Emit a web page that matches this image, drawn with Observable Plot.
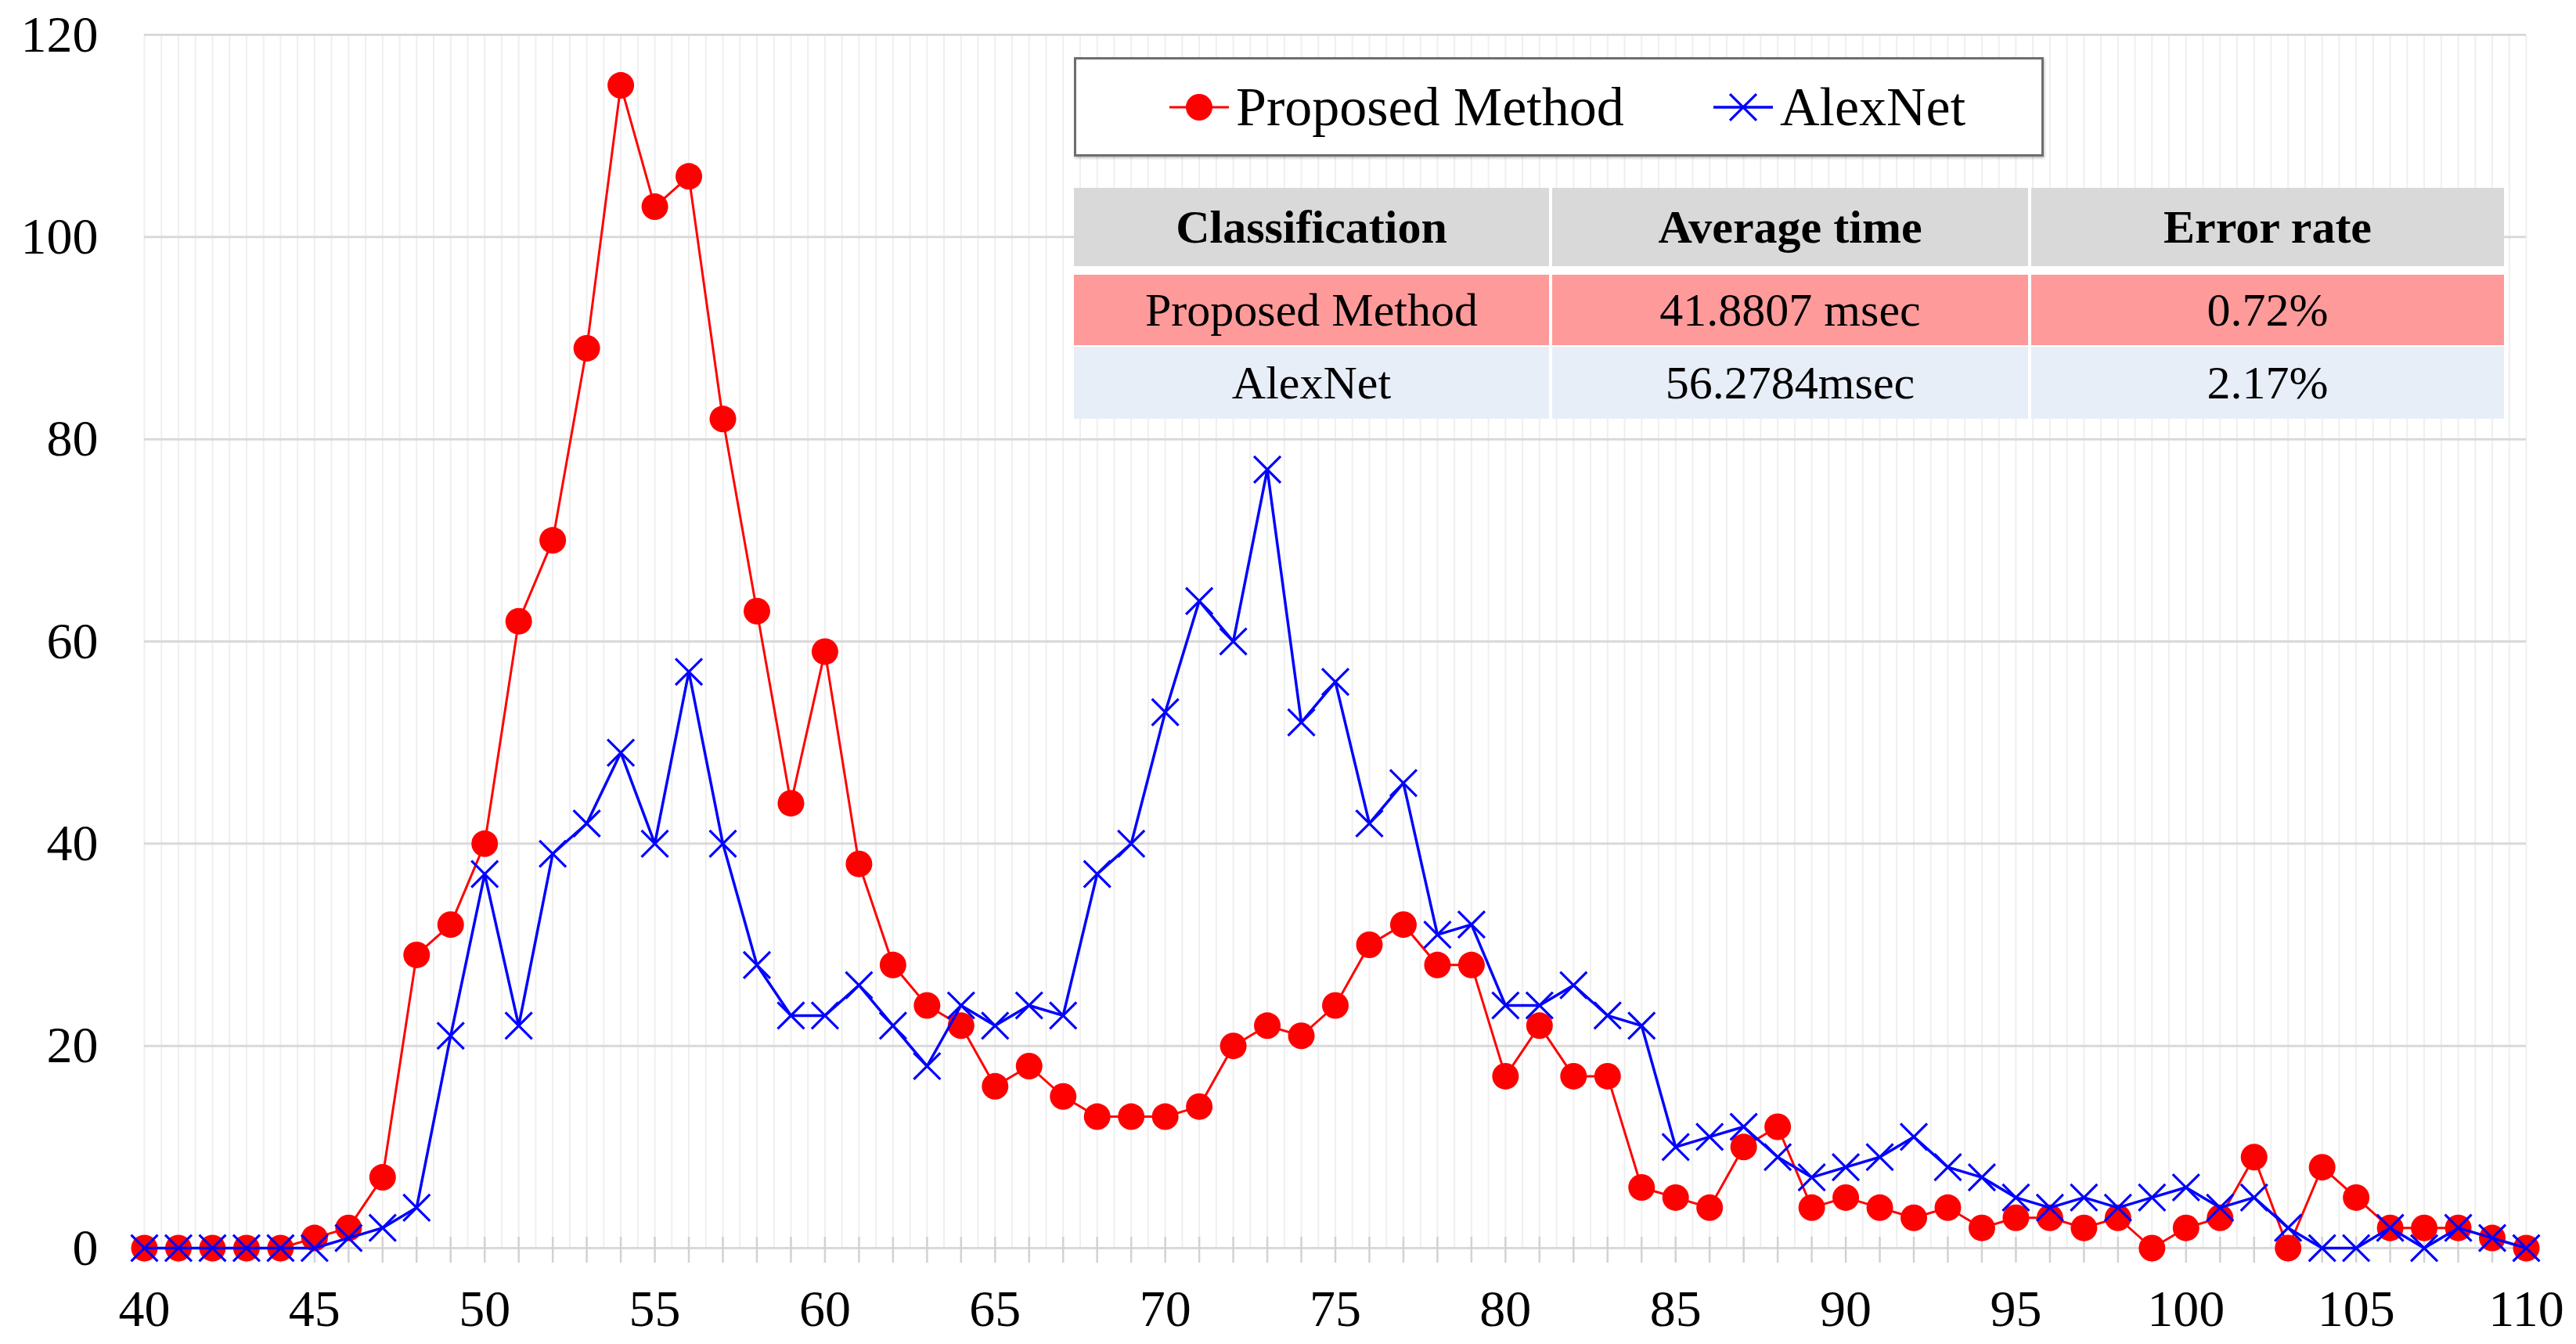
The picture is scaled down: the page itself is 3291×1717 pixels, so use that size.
<!DOCTYPE html>
<html>
<head>
<meta charset="utf-8">
<script src="https://cdn.jsdelivr.net/npm/d3@7"></script>
<script src="https://cdn.jsdelivr.net/npm/@observablehq/plot@0.6"></script>
<style>
  html, body { margin: 0; padding: 0; background: #ffffff; }
  #wrap { position: relative; width: 3291px; height: 1717px; font-family: "Liberation Serif", "Times New Roman", serif; color: #000; }
  #wrap svg { display: block; }
  #legend { position: absolute; left: 1372px; top: 73px; width: 1239px; height: 127px; box-sizing: border-box;
            border: 3px solid #6e6e6e; background: #ffffff; box-shadow: 1px 2px 3px rgba(0,0,0,0.25); }
  .litem { position: absolute; top: 0; height: 121px; display: flex; align-items: center; }
  .litem span { font-size: 70px; line-height: 1; margin-left: 8px; }
  #table { position: absolute; left: 1372px; top: 240px; width: 1827px; background: #ffffff; }
  .trow { display: flex; }
  .tcell { display: flex; align-items: center; justify-content: center; font-size: 60px; line-height: 1; }
</style>
</head>
<body>
<div id="wrap"></div>
<script>
// ---- data ----
const sizes = [40,41,42,43,44,45,46,47,48,49,50,51,52,53,54,55,56,57,58,59,60,61,62,63,64,65,66,67,68,69,70,71,72,73,74,75,76,77,78,79,80,81,82,83,84,85,86,87,88,89,90,91,92,93,94,95,96,97,98,99,100,101,102,103,104,105,106,107,108,109,110];
const proposed = [0,0,0,0,0,1,2,7,29,32,40,62,70,89,115,103,106,82,63,44,59,38,28,24,22,16,18,15,13,13,13,14,20,22,21,24,30,32,28,28,17,22,17,17,6,5,4,10,12,4,5,4,3,4,2,3,3,2,3,0,2,3,9,0,8,5,2,2,2,1,0];
const alexnet  = [0,0,0,0,0,0,1,2,4,21,37,22,39,42,49,40,57,40,28,23,23,26,22,18,24,22,24,23,37,40,53,64,60,77,52,56,42,46,31,32,24,24,26,23,22,10,11,12,9,7,8,9,11,8,7,5,4,5,4,5,6,4,5,2,0,0,2,0,2,1,0];
const seriesNames = ["Proposed Method", "AlexNet"];
const seriesColors = ["#ff0000", "#0000ff"];
const xTickLabels = [40,45,50,55,60,65,70,75,80,85,90,95,100,105,110];
const yTickLabels = [0,20,40,60,80,100,120];
const tableHeader = ["Classification", "Average time", "Error rate"];
const tableRows = [
  ["Proposed Method", "41.8807 msec", "0.72%"],
  ["AlexNet", "56.2784msec", "2.17%"]
];

const propData = sizes.map((x, i) => ({x, y: proposed[i]}));
const alexData = sizes.map((x, i) => ({x, y: alexnet[i]}));
const halfGrid = d3.range(40, 110.001, 0.5);

const chart = Plot.plot({
  width: 3291,
  height: 1717,
  marginLeft: 184,
  marginRight: 64,
  marginTop: 44,
  marginBottom: 123,
  style: {fontFamily: "'Liberation Serif', 'Times New Roman', serif", fontSize: "66px", color: "#000", background: "#fff"},
  x: {domain: [40, 110]},
  y: {domain: [0, 120]},
  marks: [
    Plot.ruleX(halfGrid, {x: d => d, stroke: "#efefef", strokeWidth: 2}),
    Plot.ruleY(yTickLabels, {y: d => d, stroke: "#d9d9d9", strokeWidth: 3}),
    Plot.ruleX(sizes, {x: d => d, y1: 0, y2: 0, insetTop: 19, insetBottom: 14, stroke: "#d2d2d2", strokeWidth: 2.5}),
    Plot.axisY({ticks: yTickLabels, tickSize: 0, tickPadding: 59, label: null, fontSize: 66}),
    Plot.axisX({ticks: xTickLabels, tickSize: 0, tickPadding: 53, label: null, fontSize: 66}),
    Plot.line(propData, {x: "x", y: "y", stroke: seriesColors[0], strokeWidth: 3}),
    Plot.dot(propData, {x: "x", y: "y", r: 17, fill: seriesColors[0], stroke: "none"}),
    Plot.line(alexData, {x: "x", y: "y", stroke: seriesColors[1], strokeWidth: 3.5}),
    Plot.dot(alexData, {x: "x", y: "y", r: 15.5, symbol: "times", stroke: seriesColors[1], strokeWidth: 3.2})
  ]
});

const wrap = document.getElementById("wrap");
wrap.appendChild(chart);

// ---- legend ----
const legend = document.createElement("div");
legend.id = "legend";
wrap.appendChild(legend);
const legendLefts = [118, 813];
const legendSymbols = ["circle", "times"];
seriesNames.forEach((name, i) => {
  const item = document.createElement("div");
  item.className = "litem";
  item.style.left = legendLefts[i] + "px";
  const svg = d3.create("svg").attr("width", 78).attr("height", 44);
  svg.append("line").attr("x1", 1).attr("x2", 77).attr("y1", 22).attr("y2", 22)
     .attr("stroke", seriesColors[i]).attr("stroke-width", i === 0 ? 3 : 3.5);
  if (legendSymbols[i] === "circle") {
    svg.append("circle").attr("cx", 39).attr("cy", 22).attr("r", 17).attr("fill", seriesColors[i]);
  } else {
    svg.append("path").attr("transform", "translate(39,22)")
       .attr("d", d3.symbol(d3.symbolTimes, Math.PI * 15.5 * 15.5)())
       .attr("fill", "none").attr("stroke", seriesColors[i]).attr("stroke-width", 3.2);
  }
  item.appendChild(svg.node());
  const label = document.createElement("span");
  label.textContent = name;
  item.appendChild(label);
  legend.appendChild(item);
});

// ---- table ----
const table = document.createElement("div");
table.id = "table";
wrap.appendChild(table);
const colWidths = [607, 608, 604];
const rowHeights = [100, 90, 92];
const rowGaps = [0, 11, 2];
const rowFills = ["#d9d9d9", "#ff9a9a", "#e7eef8"];
[tableHeader, ...tableRows].forEach((row, r) => {
  const rowDiv = document.createElement("div");
  rowDiv.className = "trow";
  rowDiv.style.marginTop = rowGaps[r] + "px";
  row.forEach((txt, c) => {
    const cell = document.createElement("div");
    cell.className = "tcell";
    cell.style.width = colWidths[c] + "px";
    cell.style.height = rowHeights[r] + "px";
    cell.style.background = rowFills[r];
    cell.style.marginLeft = c === 0 ? "0px" : "4px";
    if (r === 0) cell.style.fontWeight = "bold";
    cell.textContent = txt;
    rowDiv.appendChild(cell);
  });
  table.appendChild(rowDiv);
});
</script>
</body>
</html>
